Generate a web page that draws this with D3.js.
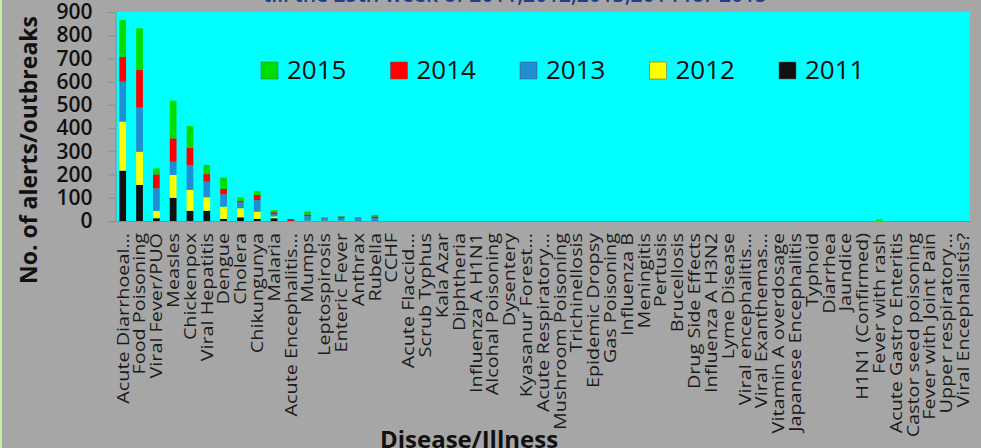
<!DOCTYPE html>
<html><head><meta charset="utf-8">
<script src="https://cdn.jsdelivr.net/npm/d3@7"></script>
<style>
html,body{margin:0;padding:0;background:#a6a6a6;overflow:hidden}
svg{display:block}
text{font-family:"Open Sans",sans-serif}
</style></head><body>
<svg id="c" width="981" height="448"></svg>
<script>
const categories = ["Acute Diarrhoeal...","Food Poisoning","Viral Fever/PUO","Measles","Chickenpox","Viral Hepatitis","Dengue","Cholera","Chikungunya","Malaria","Acute Encephalitis...","Mumps","Leptospirosis","Enteric Fever","Anthrax","Rubella","CCHF","Acute Flaccid...","Scrub Typhus","Kala Azar","Diphtheria","Influenza A H1N1","Alcohal Poisoning","Dysentery","Kyasanur Forest...","Acute Respiratory...","Mushroom Poisoning","Trichinellosis","Epidemic Dropsy","Gas Poisoning","Influenza B","Meningitis","Pertusis","Brucellosis","Drug Side Effects","Influenza A H3N2","Lyme Disease","Viral encephalitis...","Viral Exanthemas...","Vitamin A overdosage","Japanese Encephalitis","Typhoid","Diarrhea","Jaundice","H1N1 (Confirmed)","Fever with rash","Acute Gastro Enteritis","Castor seed poisoning","Fever  with Joint Pain","Upper respiratory...","Viral Encephalistis?"];
const years = ["2011","2012","2013","2014","2015"];
const legendOrder = ["2015","2014","2013","2012","2011"];
const v2011 = [217,155,12,100,44,44,9,16,9,12,0,1,0,0,0,0,0,0,0,0,0,0,0,0,0,0,0,0,0,0,0,0,0,0,0,0,0,0,0,0,0,0,0,0,0,0,0,0,0,0,0];
const v2012 = [211,143,32,98,90,58,53,39,31,8,0,1,1,1,0,0,0,0,0,0,0,0,0,0,0,0,0,0,0,0,0,0,0,0,0,0,0,0,0,0,0,0,0,0,0,0,0,0,0,0,0];
const v2013 = [172,190,97,57,107,67,53,25,50,10,0,19,10,12,12,12,0,0,0,0,0,0,0,0,0,0,0,0,0,0,0,0,0,0,0,0,0,0,0,0,0,0,0,0,0,0,0,0,0,0,0];
const v2014 = [108,162,60,101,75,33,23,6,22,8,8,7,3,6,3,8,0,0,0,0,0,0,0,0,0,0,0,0,0,0,0,0,0,0,0,0,0,0,0,0,0,0,0,0,0,0,0,0,0,0,0];
const v2015 = [158,180,26,162,93,39,49,16,17,9,0,13,2,2,1,6,0,0,0,0,0,0,0,0,0,0,0,0,0,0,0,0,0,0,0,0,0,0,0,0,0,0,0,0,0,7,0,0,0,0,0];
const yTicks = [0,100,200,300,400,500,600,700,800,900];
const colors = {"2011":"#111111","2012":"#ffff00","2013":"#1e8fd2","2014":"#ff0000","2015":"#00dd00"};
const titleText = "till the 25th week of 2011,2012,2013,2014 for 2015";
const yTitle = "No. of alerts/outbreaks";
const xTitle = "Disease/Illness";

const series = {"2011":v2011,"2012":v2012,"2013":v2013,"2014":v2014,"2015":v2015};
const table = categories.map((c,i)=>{const o={cat:c}; years.forEach(y=>o[y]=series[y][i]); return o;});
const stacked = d3.stack().keys(years)(table);

const svg = d3.select("#c");
const L=116, R=970, T=12, B=221;
const x = d3.scaleBand().domain(categories).range([L,R]).paddingInner(0.6).paddingOuter(0.2);
const y = d3.scaleLinear().domain([0,900]).range([B,T]);

svg.append("rect").attr("x",0).attr("y",0).attr("width",2).attr("height",448).attr("fill","#c8eea0");

svg.append("text").attr("x",515).attr("y",2).attr("text-anchor","middle")
  .attr("font-size",21).attr("font-weight",600).attr("fill","#233e8b").text(titleText);

svg.append("rect").attr("x",L).attr("y",T).attr("width",R-L).attr("height",B-T).attr("fill","#00ffff");

svg.append("g").selectAll("g").data(stacked).join("g").attr("fill",d=>colors[d.key])
  .selectAll("rect").data(d=>d).join("rect")
  .attr("x",d=>x(d.data.cat)).attr("width",x.bandwidth())
  .attr("y",d=>y(d[1])).attr("height",d=>Math.max(0,y(d[0])-y(d[1])));

// y axis
const ya = svg.append("g").attr("transform",`translate(${L-0.5},0)`)
  .call(d3.axisLeft(y).tickValues(yTicks).tickSize(7).tickPadding(16).tickSizeOuter(0));
ya.select(".domain").attr("stroke","#8c8c8c");
ya.selectAll(".tick line").attr("stroke","#8c8c8c");
ya.selectAll("text").attr("font-size",21).attr("font-weight",600).attr("fill","#111")
  .attr("font-family","'Open Sans',sans-serif");

// x axis
const xa = svg.append("g").attr("transform",`translate(0,${B})`)
  .call(d3.axisBottom(x).tickSize(0).tickPadding(0).tickSizeOuter(0));
xa.select(".domain").attr("stroke","#8c8c8c");
xa.selectAll("text").attr("font-size",16.5).attr("fill","#1a1a1a")
  .attr("font-family","'Open Sans',sans-serif")
  .attr("text-anchor","end").attr("transform","rotate(-90) scale(1.2,1)")
  .attr("x",-10).attr("y",0).attr("dy","0.35em");

svg.append("text").attr("transform","translate(37,150) rotate(-90)").attr("text-anchor","middle")
  .attr("font-size",23).attr("font-weight",700).attr("fill","#111").text(yTitle);
svg.append("text").attr("x",469).attr("y",448).attr("text-anchor","middle")
  .attr("font-size",24).attr("font-weight",700).attr("fill","#111").text(xTitle);

// legend
const lg = svg.append("g").selectAll("g").data(legendOrder).join("g")
  .attr("transform",(d,i)=>`translate(${261+i*129.5},62)`);
lg.append("rect").attr("width",17).attr("height",17).attr("fill",d=>colors[d]).attr("stroke","#555").attr("stroke-width",0.5);
lg.append("text").attr("x",26).attr("y",17).attr("font-size",26).attr("fill","#111").text(d=>d);
</script></body></html>
